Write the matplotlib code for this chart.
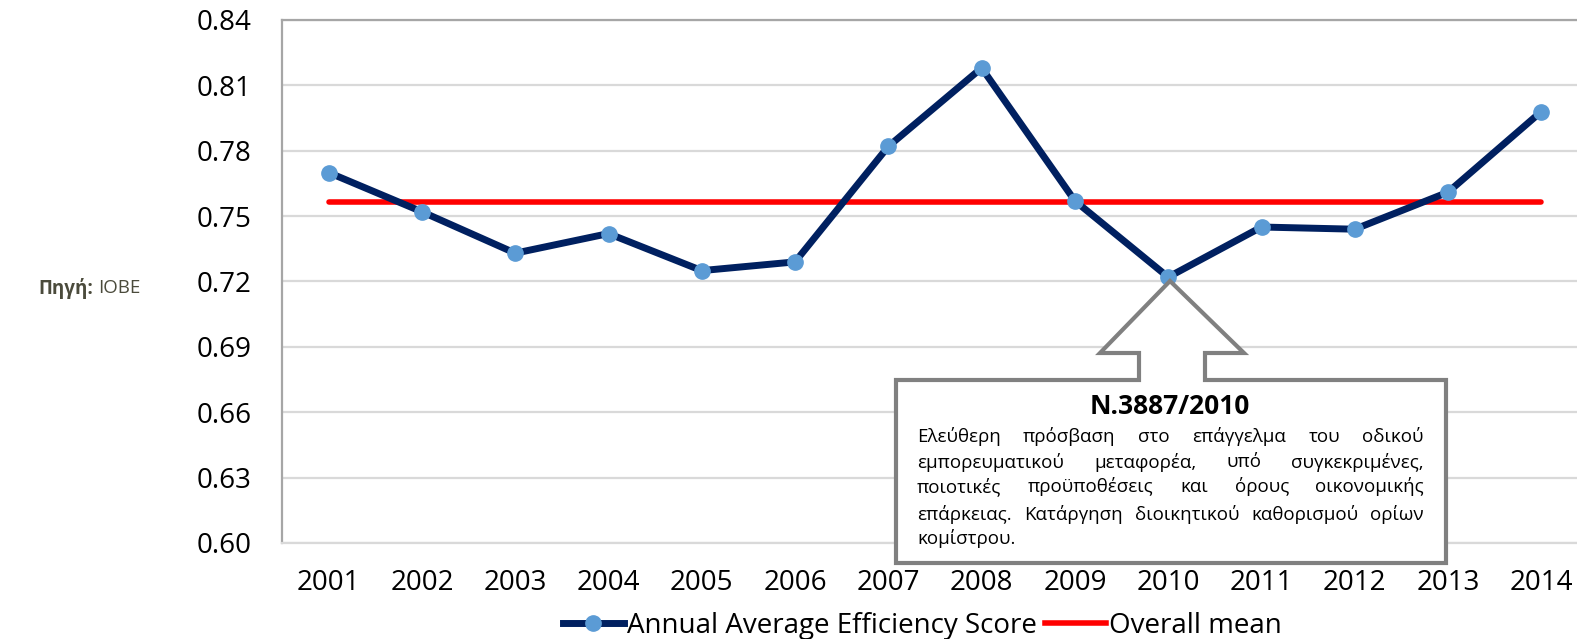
import matplotlib
matplotlib.use("Agg")
import matplotlib.pyplot as plt
from matplotlib.patches import Polygon
from matplotlib.lines import Line2D

years = ["2001", "2002", "2003", "2004", "2005", "2006", "2007",
         "2008", "2009", "2010", "2011", "2012", "2013", "2014"]
efficiency = [0.770, 0.752, 0.733, 0.742, 0.725, 0.729, 0.782,
              0.818, 0.757, 0.722, 0.745, 0.744, 0.761, 0.798]
overall_mean = 0.7563
y_ticks = [0.60, 0.63, 0.66, 0.69, 0.72, 0.75, 0.78, 0.81, 0.84]

callout_title = "N.3887/2010"
callout_lines = [
    "Ελεύθερη πρόσβαση στο επάγγελμα του οδικού",
    "εμπορευματικού μεταφορέα, υπό συγκεκριμένες,",
    "ποιοτικές προϋποθέσεις και όρους οικονομικής",
    "επάρκειας. Κατάργηση διοικητικού καθορισμού ορίων",
    "κομίστρου.",
]

FONT = ["Open Sans", "DejaVu Sans"]
plt.rcParams["font.family"] = FONT

W, H = 1577, 639
fig = plt.figure(figsize=(W / 100, H / 100), dpi=100)
fig.patch.set_facecolor("white")

def fx(px):
    return px / W

def fy(py):
    return 1 - py / H

# plot area extends slightly beyond the right edge of the picture
ax = fig.add_axes([fx(282), fy(543), fx(1588) - fx(282), fy(20) - fy(543)])
x = list(range(len(years)))
ax.set_xlim(-0.5, len(years) - 0.5)
ax.set_ylim(0.60, 0.84)
ax.set_yticks(y_ticks)
ax.set_yticklabels([f"{v:.2f}" for v in y_ticks])
ax.set_xticks(x)
ax.set_xticklabels(years)
ax.tick_params(axis="both", length=0, labelsize=20, colors="black")
ax.tick_params(axis="y", pad=22)
ax.tick_params(axis="x", pad=18.5)
ax.grid(axis="y", color="#D9D9D9", linewidth=1.6)
ax.set_axisbelow(True)
for s in ["left", "top"]:
    ax.spines[s].set_color("#A6A6A6")
    ax.spines[s].set_linewidth(1.6)
ax.spines["right"].set_visible(False)
ax.spines["bottom"].set_color("#D9D9D9")
ax.spines["bottom"].set_linewidth(1.6)

ax.plot(x, efficiency, color="#002060", linewidth=5, marker="o",
        markersize=11, markerfacecolor="#5B9BD5", markeredgecolor="#5B9BD5",
        zorder=4, solid_capstyle="round")
ax.plot([x[0], x[-1]], [overall_mean, overall_mean], color="#FF0000",
        linewidth=4, solid_capstyle="round", zorder=3)

# legend
h1 = Line2D([], [], color="#002060", linewidth=5, marker="o", markersize=11,
            markerfacecolor="#5B9BD5", markeredgecolor="#5B9BD5")
h2 = Line2D([], [], color="#FF0000", linewidth=4)
fig.legend([h1, h2], ["Annual Average Efficiency Score", "Overall mean"],
           loc="center", bbox_to_anchor=(fx(922), fy(626)), ncol=2,
           frameon=False, fontsize=20, handlelength=2.2, handletextpad=0.1,
           columnspacing=0.3, borderpad=0)

fig.canvas.draw()
renderer = fig.canvas.get_renderer()

# source label
t_src = fig.text(fx(38), fy(288), "Πηγή:", fontsize=13.5, fontweight="bold",
                 color="#4B4B3C", ha="left", va="center")
src_w = t_src.get_window_extent(renderer).width
fig.text(fx(38 + src_w + 5), fy(288), "IOBE", fontsize=13.5, color="#4B4B3C",
         ha="left", va="center")

# callout shape
verts_px = [(896, 380), (1139, 380), (1139, 353), (1100, 353), (1170, 281),
            (1244, 353), (1205, 353), (1205, 380), (1446, 380), (1446, 563),
            (896, 563)]
poly = Polygon([(fx(a), fy(b)) for a, b in verts_px], closed=True,
               transform=fig.transFigure, facecolor="white",
               edgecolor="#808080", linewidth=3, zorder=10)
fig.add_artist(poly)

fig.text(fx(1170), fy(407), callout_title, fontsize=19, fontweight="bold",
         ha="center", va="center", zorder=11)

# justified body text
left_px, right_px = 917, 1424
line_y = [437, 462, 487, 514, 539]
fs = 13.5
for i, line in enumerate(callout_lines):
    words = line.split(" ")
    if i == len(callout_lines) - 1 or len(words) == 1:
        fig.text(fx(left_px), fy(line_y[i]), line, fontsize=fs,
                 ha="left", va="center", zorder=11)
        continue
    widths = []
    for w_ in words:
        t = fig.text(0, 0, w_, fontsize=fs)
        widths.append(t.get_window_extent(renderer).width)
        t.remove()
    gap = (right_px - left_px - sum(widths)) / (len(words) - 1)
    cur = left_px
    for w_, wd in zip(words, widths):
        fig.text(fx(cur), fy(line_y[i]), w_, fontsize=fs, ha="left",
                 va="center", zorder=11)
        cur += wd + gap

fig.savefig("out.png", dpi=100, facecolor="white")
